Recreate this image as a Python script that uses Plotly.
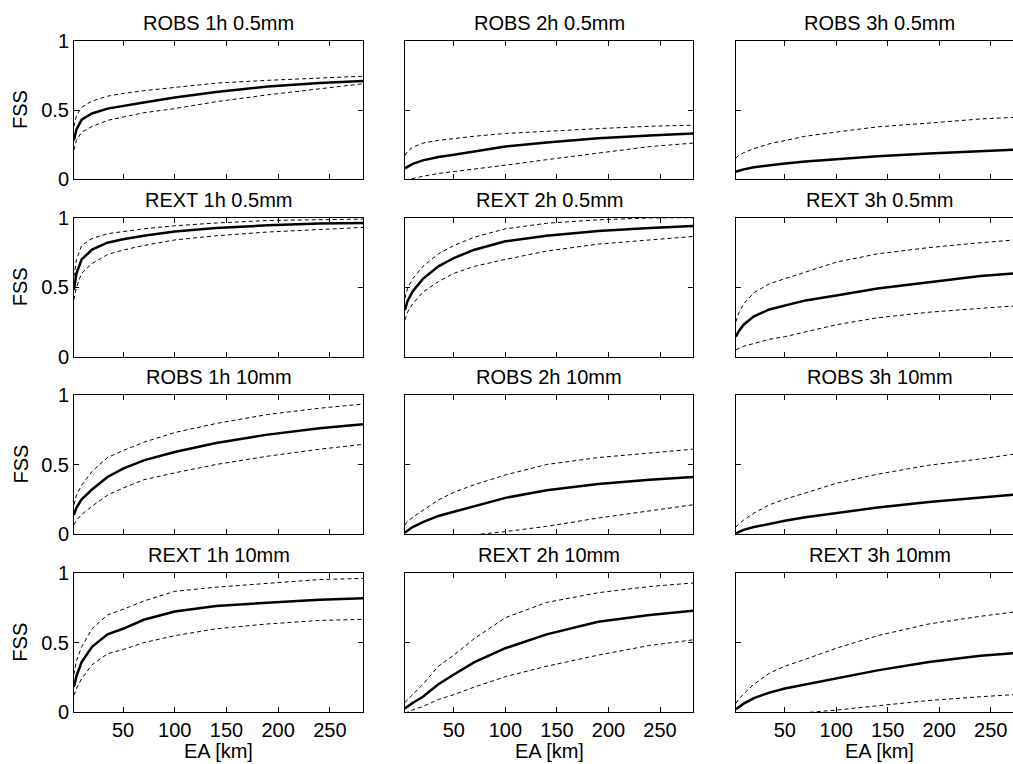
import plotly.graph_objects as go

# ---------------- data ----------------
EA_KM = [2.5, 5, 10, 20, 35, 50, 70, 100, 140, 190, 240, 282]

ROW_LABELS = ["ROBS", "REXT", "ROBS", "REXT"]
ROW_THRESH = ["0.5mm", "0.5mm", "10mm", "10mm"]
COL_LEAD = ["1h", "2h", "3h"]

# ROBS 0.5mm
robs_1h_05_mean = [0.28, 0.36, 0.43, 0.475, 0.51, 0.53, 0.555, 0.59, 0.63, 0.67, 0.695, 0.71]
robs_1h_05_up = [0.38, 0.46, 0.52, 0.565, 0.60, 0.62, 0.64, 0.665, 0.695, 0.715, 0.733, 0.745]
robs_1h_05_lo = [0.21, 0.28, 0.34, 0.38, 0.425, 0.45, 0.48, 0.51, 0.56, 0.61, 0.655, 0.69]

robs_2h_05_mean = [0.077, 0.09, 0.11, 0.135, 0.16, 0.175, 0.2, 0.235, 0.265, 0.295, 0.315, 0.33]
robs_2h_05_up = [0.17, 0.2, 0.23, 0.26, 0.28, 0.295, 0.31, 0.33, 0.348, 0.365, 0.382, 0.39]
robs_2h_05_lo = [-0.01, -0.005, 0.005, 0.02, 0.04, 0.053, 0.075, 0.10, 0.14, 0.19, 0.235, 0.26]

robs_3h_05_mean = [0.053, 0.06, 0.07, 0.085, 0.1, 0.113, 0.127, 0.143, 0.165, 0.185, 0.203, 0.215]
robs_3h_05_up = [0.15, 0.17, 0.19, 0.22, 0.255, 0.28, 0.31, 0.34, 0.378, 0.405, 0.435, 0.45]
robs_3h_05_lo = [-0.2, -0.19, -0.18, -0.17, -0.15, -0.14, -0.12, -0.1, -0.08, -0.06, -0.04, -0.03]

# REXT 0.5mm
rext_1h_05_mean = [0.48, 0.6, 0.7, 0.77, 0.82, 0.845, 0.87, 0.9, 0.925, 0.945, 0.958, 0.962]
rext_1h_05_up = [0.575, 0.7, 0.8, 0.85, 0.885, 0.9, 0.92, 0.942, 0.962, 0.98, 0.988, 0.99]
rext_1h_05_lo = [0.41, 0.5, 0.6, 0.67, 0.735, 0.767, 0.8, 0.84, 0.87, 0.897, 0.915, 0.93]

rext_2h_05_mean = [0.335, 0.4, 0.47, 0.56, 0.65, 0.71, 0.77, 0.83, 0.87, 0.905, 0.925, 0.94]
rext_2h_05_up = [0.42, 0.49, 0.56, 0.65, 0.74, 0.8, 0.86, 0.92, 0.96, 0.985, 0.998, 1.0]
rext_2h_05_lo = [0.264, 0.32, 0.38, 0.465, 0.54, 0.6, 0.65, 0.7, 0.76, 0.81, 0.84, 0.865]

rext_3h_05_mean = [0.144, 0.18, 0.23, 0.29, 0.34, 0.37, 0.405, 0.44, 0.49, 0.535, 0.58, 0.605]
rext_3h_05_up = [0.25, 0.31, 0.38, 0.46, 0.525, 0.56, 0.61, 0.68, 0.74, 0.785, 0.82, 0.845]
rext_3h_05_lo = [0.05, 0.06, 0.075, 0.095, 0.125, 0.144, 0.18, 0.23, 0.28, 0.32, 0.348, 0.37]

# ROBS 10mm
robs_1h_10_mean = [0.137, 0.19, 0.25, 0.32, 0.41, 0.47, 0.53, 0.59, 0.655, 0.715, 0.76, 0.79]
robs_1h_10_up = [0.21, 0.28, 0.35, 0.45, 0.55, 0.6, 0.66, 0.73, 0.795, 0.86, 0.905, 0.935]
robs_1h_10_lo = [0.065, 0.1, 0.14, 0.2, 0.28, 0.33, 0.39, 0.44, 0.5, 0.56, 0.61, 0.645]

robs_2h_10_mean = [0.01, 0.025, 0.05, 0.085, 0.13, 0.16, 0.2, 0.26, 0.315, 0.36, 0.39, 0.41]
robs_2h_10_up = [0.065, 0.09, 0.12, 0.17, 0.245, 0.3, 0.355, 0.425, 0.5, 0.55, 0.585, 0.61]
robs_2h_10_lo = [-0.08, -0.07, -0.06, -0.045, -0.025, -0.015, -0.005, 0.017, 0.055, 0.115, 0.165, 0.21]

robs_3h_10_mean = [0.005, 0.015, 0.03, 0.05, 0.075, 0.095, 0.12, 0.15, 0.19, 0.23, 0.265, 0.29]
robs_3h_10_up = [0.05, 0.07, 0.1, 0.15, 0.21, 0.25, 0.295, 0.365, 0.43, 0.495, 0.54, 0.585]
robs_3h_10_lo = [-0.2, -0.2, -0.19, -0.18, -0.17, -0.16, -0.15, -0.13, -0.1, -0.08, -0.06, -0.04]

# REXT 10mm
rext_1h_10_mean = [0.18, 0.26, 0.36, 0.47, 0.56, 0.6, 0.665, 0.725, 0.765, 0.79, 0.81, 0.82]
rext_1h_10_up = [0.27, 0.37, 0.47, 0.6, 0.7, 0.74, 0.8, 0.87, 0.9, 0.93, 0.955, 0.963]
rext_1h_10_lo = [0.12, 0.17, 0.24, 0.34, 0.42, 0.45, 0.5, 0.55, 0.6, 0.635, 0.66, 0.668]

rext_2h_10_mean = [0.026, 0.04, 0.065, 0.11, 0.2, 0.27, 0.36, 0.46, 0.56, 0.65, 0.7, 0.73]
rext_2h_10_up = [0.067, 0.09, 0.125, 0.2, 0.33, 0.41, 0.53, 0.68, 0.79, 0.86, 0.905, 0.93]
rext_2h_10_lo = [-0.01, 0.0, 0.015, 0.04, 0.09, 0.125, 0.18, 0.255, 0.33, 0.41, 0.48, 0.52]

rext_3h_10_mean = [0.02, 0.035, 0.06, 0.1, 0.14, 0.17, 0.2, 0.243, 0.3, 0.36, 0.405, 0.43]
rext_3h_10_up = [0.062, 0.09, 0.13, 0.2, 0.28, 0.33, 0.38, 0.46, 0.55, 0.635, 0.69, 0.73]
rext_3h_10_lo = [-0.15, -0.14, -0.12, -0.1, -0.06, -0.035, -0.005, 0.014, 0.045, 0.083, 0.11, 0.13]

PANELS = [
    [(robs_1h_05_mean, robs_1h_05_up, robs_1h_05_lo),
     (robs_2h_05_mean, robs_2h_05_up, robs_2h_05_lo),
     (robs_3h_05_mean, robs_3h_05_up, robs_3h_05_lo)],
    [(rext_1h_05_mean, rext_1h_05_up, rext_1h_05_lo),
     (rext_2h_05_mean, rext_2h_05_up, rext_2h_05_lo),
     (rext_3h_05_mean, rext_3h_05_up, rext_3h_05_lo)],
    [(robs_1h_10_mean, robs_1h_10_up, robs_1h_10_lo),
     (robs_2h_10_mean, robs_2h_10_up, robs_2h_10_lo),
     (robs_3h_10_mean, robs_3h_10_up, robs_3h_10_lo)],
    [(rext_1h_10_mean, rext_1h_10_up, rext_1h_10_lo),
     (rext_2h_10_mean, rext_2h_10_up, rext_2h_10_lo),
     (rext_3h_10_mean, rext_3h_10_up, rext_3h_10_lo)],
]

X_TICKS = [50, 100, 150, 200, 250]
Y_TICKS = [0, 0.5, 1]
Y_TICK_TEXT = ["0", "0.5", "1"]

# ---------------- layout ----------------
W, H = 1013, 764
FONT = "Arial, 'Liberation Sans', sans-serif"
FS = 20

col_px = [(74, 363), (405, 693), (736, 1013)]
row_px = [(41, 179), (217.7, 356.7), (395, 534), (573.3, 712)]
x_ranges = [[2.6, 282], [2.6, 282], [2.6, 271.6]]

fig = go.Figure()
layout = dict(
    template="none",
    width=W, height=H, margin=dict(l=0, r=0, t=0, b=0, autoexpand=False),
    paper_bgcolor="white", plot_bgcolor="white",
    showlegend=False, font=dict(family=FONT, size=FS, color="black"),
)
annotations = []

for r in range(4):
    for c in range(3):
        k = r * 3 + c + 1
        xa = "x" if k == 1 else f"x{k}"
        ya = "y" if k == 1 else f"y{k}"
        mean, up, lo = PANELS[r][c]
        for series, width, dash in ((up, 1, "4px,3px"), (lo, 1, "4px,3px"), (mean, 2.5, "solid")):
            fig.add_trace(go.Scatter(
                x=EA_KM, y=series, mode="lines", xaxis=xa, yaxis=ya,
                line=dict(color="black", width=width, dash=dash),
                hoverinfo="skip", cliponaxis=True,
            ))
        x0, x1 = col_px[c]
        y0, y1 = row_px[r]
        layout["xaxis" if k == 1 else f"xaxis{k}"] = dict(
            domain=[x0 / W, x1 / W], range=x_ranges[c], anchor=ya,
            tickvals=X_TICKS, showticklabels=(r == 3), automargin=False,
            ticks="inside", ticklen=5, tickcolor="black", tickwidth=1,
            showline=True, linecolor="black", linewidth=1, mirror="allticks",
            showgrid=False, zeroline=False,
            tickfont=dict(family=FONT, size=FS, color="black"),
        )
        layout["yaxis" if k == 1 else f"yaxis{k}"] = dict(
            domain=[1 - y1 / H, 1 - y0 / H], range=[0, 1], anchor=xa,
            tickvals=Y_TICKS, ticktext=Y_TICK_TEXT, showticklabels=(c == 0),
            automargin=False,
            ticks="inside", ticklen=5, tickcolor="black", tickwidth=1,
            showline=True, linecolor="black", linewidth=1,
            mirror=("allticks" if c < 2 else False),
            showgrid=False, zeroline=False,
            tickfont=dict(family=FONT, size=FS, color="black"),
        )
        # panel title
        annotations.append(dict(
            text=f"{ROW_LABELS[r]} {COL_LEAD[c]} {ROW_THRESH[r]}",
            xref=f"{xa} domain" if c < 2 else xa, x=(0.5 if c < 2 else 142.3),
            yref=f"{ya} domain", y=1, yanchor="bottom", xanchor="center",
            yshift=5, showarrow=False, font=dict(family=FONT, size=FS, color="black"),
        ))
        if c == 0:
            annotations.append(dict(
                text="FSS", xref="paper", x=20 / W, yref=f"{ya} domain", y=0.5,
                textangle=-90, showarrow=False, xanchor="center", yanchor="middle",
                font=dict(family=FONT, size=FS, color="black"),
            ))
        if r == 3:
            annotations.append(dict(
                text="EA [km]", xref=xa, x=142.3, yref="paper", y=0,
                showarrow=False, xanchor="center", yanchor="bottom",
                font=dict(family=FONT, size=FS, color="black"),
            ))

layout["annotations"] = annotations
fig.update_layout(**layout)
fig.write_html("out.html")
